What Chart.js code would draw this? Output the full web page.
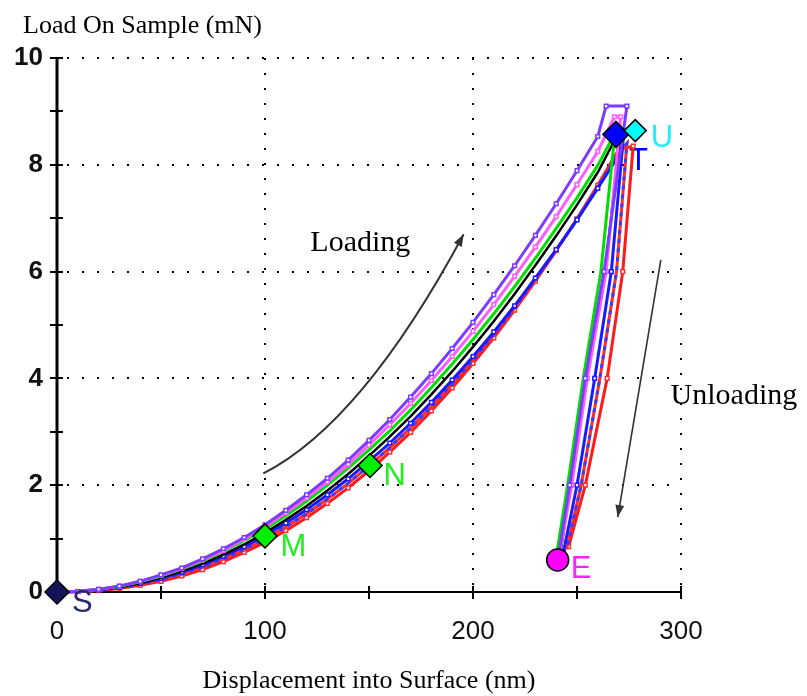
<!DOCTYPE html>
<html>
<head>
<meta charset="utf-8">
<script src="https://cdn.jsdelivr.net/npm/chart.js@4.4.1/dist/chart.umd.min.js"></script>
<style>
  html, body { margin: 0; padding: 0; background: #fff; }
  canvas { display: block; }
</style>
</head>
<body>
<canvas id="grafik" width="807" height="696"></canvas>
<script>
// Kedalaman (nm) untuk bagian loading, sama untuk semua kurva
const depthGrid = [0,10,20,30,40,50,60,70,80,90,100,110,120,130,140,150,160,170,180,190,200,210,220,230,240,250,260];

// Beban (mN) tiap kurva pada depthGrid
const purpleLoad  = [0,0.01,0.05,0.11,0.2,0.32,0.45,0.62,0.81,1.02,1.26,1.53,1.82,2.13,2.47,2.84,3.23,3.65,4.09,4.56,5.05,5.57,6.11,6.68,7.27,7.89,8.53];
const magentaLoad = [0,0.012,0.05,0.11,0.2,0.31,0.44,0.6,0.78,0.99,1.22,1.48,1.76,2.06,2.39,2.75,3.13,3.53,3.96,4.41,4.88,5.38,5.91,6.46,7.03,7.63,8.25];
const greenLoad   = [0,0.012,0.047,0.106,0.19,0.3,0.43,0.58,0.76,0.96,1.18,1.43,1.7,2.0,2.32,2.66,3.02,3.41,3.83,4.27,4.73,5.21,5.72,6.25,6.81,7.38,7.99];
const blackLoad   = [0,0.01,0.04,0.094,0.17,0.27,0.39,0.53,0.7,0.89,1.11,1.35,1.61,1.9,2.21,2.55,2.91,3.29,3.7,4.13,4.59,5.07,5.58,6.12,6.67,7.25,7.86];
const blueLoad    = [0,0.01,0.04,0.09,0.16,0.26,0.37,0.51,0.67,0.85,1.06,1.29,1.54,1.82,2.12,2.45,2.79,3.16,3.55,3.97,4.41,4.87,5.36,5.88,6.41,6.97,7.56];
const redBlueLoad = [0,0.008,0.033,0.078,0.142,0.23,0.335,0.465,0.62,0.795,0.995,1.22,1.465,1.74,2.035,2.36,2.705,3.075,3.47,3.895,4.345,4.815,5.32,5.85,6.4,6.98,7.59];
const redLoad     = [0,0.006,0.027,0.066,0.124,0.2,0.3,0.42,0.57,0.74,0.93,1.15,1.39,1.66,1.95,2.27,2.62,2.99,3.39,3.82,4.28,4.76,5.28,5.82,6.39,6.99,7.62];

// Puncak + unloading tiap kurva
const purpleTailDepth  = [264,274,263,254,246.5,241];
const purpleTailLoad   = [9.1,9.1,6,4,2,0.65];
const magentaTailDepth = [268,271,264,255,247.5,241.5];
const magentaTailLoad  = [8.9,8.9,6,4,2,0.7];
const greenTailDepth   = [267,268,261.5,253,245.5,240];
const greenTailLoad    = [8.5,8.5,6,4,2,0.65];
const blackTailDepth   = [270,271,263.5,254.5,247,241.5];
const blackTailLoad    = [8.6,8.6,6,4,2,0.6];
const blueTailDepth    = [270,272.5,266.5,258.5,250,243.5];
const blueTailLoad     = [8.17,8.6,6,4,2,0.75];
const redBlueTailDepth = [270,274,269,261,252,245];
const redBlueTailLoad  = [8.22,8.4,6,4,2,0.8];
const redTailDepth     = [270,277,272,264.5,254,246];
const redTailLoad      = [8.28,8.35,6,4,2,0.85];

// Titik penanda (S, M, N, puncak, U, E)
const markerDepth = [0,100,150.5,268.7,278,240.7];
const markerLoad  = [0,1.05,2.37,8.57,8.64,0.6];

// Huruf di samping penanda
const letterText  = ['S','M','N','U','E'];
const letterDepth = [7.2,107.4,157,285.5,247];
const letterLoad  = [-0.37,0.67,2.0,8.33,0.26];

// Sumbu
const xTickValues = [0,50,100,150,200,250,300];
const yTickValues = [0,1,2,3,4,5,6,7,8,9,10];
const xGridValues = [100,200,300];
const yGridValues = [2,4,6,8,10];

// Gaya (warna dsb.)
const markerColors = ['#14145a','#00ee00','#00ee00','#0000ff','#00ffff','#ff00ff'];
const markerShapes = ['rectRot','rectRot','rectRot','rectRot','rectRot','circle'];
const letterColors = ['#26266e','#22ee22','#22ee22','#22eeff','#ff22ff'];

function gabung(d1, l1, d2, l2) {
  const d = d1.concat(d2), l = l1.concat(l2);
  return d.map((v, i) => ({ x: v, y: l[i] }));
}

function kurva(label, data, warna, order, extra) {
  return Object.assign({
    label, data, order,
    showLine: true,
    borderColor: warna,
    borderWidth: 3,
    pointRadius: 0,
    tension: 0,
    clip: false
  }, extra || {});
}

// titik kotak berongga, mirip tampilan asli
const kotak = warna => ({
  pointStyle: 'rect', pointRadius: 2.6, pointBorderWidth: 1.5,
  pointBorderColor: warna, pointBackgroundColor: '#fff'
});

const datasets = [
  {
    label: 'penanda',
    data: markerDepth.map((v, i) => ({ x: v, y: markerLoad[i] })),
    order: 0,
    showLine: false,
    pointStyle: markerShapes,
    pointRadius: [12, 12, 12, 13, 11, 11],
    pointBackgroundColor: markerColors,
    pointBorderColor: '#000',
    pointBorderWidth: 1.5,
    clip: false
  },
  kurva('purple', gabung(depthGrid, purpleLoad, purpleTailDepth, purpleTailLoad), '#7a3cff', 1, kotak('#7a3cff')),
  kurva('magenta', gabung(depthGrid, magentaLoad, magentaTailDepth, magentaTailLoad), '#ff5cff', 2, kotak('#ff5cff')),
  kurva('green', gabung(depthGrid, greenLoad, greenTailDepth, greenTailLoad), '#00dd00', 3),
  kurva('black', gabung(depthGrid, blackLoad, blackTailDepth, blackTailLoad), '#000000', 4, { borderWidth: 2.5 }),
  kurva('blue', gabung(depthGrid, blueLoad, blueTailDepth, blueTailLoad), '#1a1aff', 5, kotak('#1a1aff')),
  kurva('redblue-dash', gabung(depthGrid, redBlueLoad, redBlueTailDepth, redBlueTailLoad), '#3a3aff', 6, { borderDash: [4, 5] }),
  kurva('redblue', gabung(depthGrid, redBlueLoad, redBlueTailDepth, redBlueTailLoad), '#ff2a2a', 7),
  kurva('red', gabung(depthGrid, redLoad, redTailDepth, redTailLoad), '#ff1a1a', 8, kotak('#ff3030'))
];

function garis(ctx, x1, y1, x2, y2) {
  ctx.beginPath();
  ctx.moveTo(x1, y1);
  ctx.lineTo(x2, y2);
  ctx.stroke();
}

function kepalaPanah(ctx, fromX, fromY, toX, toY) {
  const ang = Math.atan2(toY - fromY, toX - fromX);
  const len = 13, lebar = 0.35;
  ctx.beginPath();
  ctx.moveTo(toX, toY);
  ctx.lineTo(toX - len * Math.cos(ang - lebar), toY - len * Math.sin(ang - lebar));
  ctx.lineTo(toX - len * Math.cos(ang + lebar), toY - len * Math.sin(ang + lebar));
  ctx.closePath();
  ctx.fill();
}

// Grid titik-titik, sumbu, tick, teks, panah
const dekorasi = {
  id: 'dekorasi',
  beforeDatasetsDraw(chart) {
    const { ctx, scales: { x, y } } = chart;
    const x0 = x.getPixelForValue(0), x3 = x.getPixelForValue(300);
    const y0 = y.getPixelForValue(0), y10 = y.getPixelForValue(10);
    ctx.save();
    ctx.strokeStyle = '#000';
    ctx.lineWidth = 2;
    ctx.setLineDash([2, 13]);
    xGridValues.forEach(v => {
      const px = Math.round(x.getPixelForValue(v));
      garis(ctx, px, y10, px, y0 - 4);
    });
    yGridValues.forEach(v => {
      const py = Math.round(y.getPixelForValue(v));
      garis(ctx, x0 + 10, py, x3, py);
    });
    ctx.setLineDash([]);

    // sumbu y tebal, sumbu x tipis
    ctx.lineWidth = 3;
    garis(ctx, x0, y0, x0, y10);
    ctx.lineWidth = 2;
    garis(ctx, x0, y0, x3, y0);

    // tick kecil yang memotong sumbu
    xTickValues.forEach(v => {
      const px = Math.round(x.getPixelForValue(v));
      garis(ctx, px, y0 - 6, px, y0 + 7);
    });
    yTickValues.forEach(v => {
      const py = Math.round(y.getPixelForValue(v));
      garis(ctx, x0 - 7, py, x0 + 6, py);
    });

    // huruf T biru, sebagian tertutup garis
    ctx.font = '31px "Liberation Sans", Arial, sans-serif';
    ctx.fillStyle = '#0000ff';
    ctx.fillText('T', x.getPixelForValue(275), y.getPixelForValue(7.9));
    ctx.restore();
  },
  afterDatasetsDraw(chart) {
    const { ctx, scales: { x, y } } = chart;
    ctx.save();

    // huruf penanda
    ctx.font = '31px "Liberation Sans", Arial, sans-serif';
    ctx.textAlign = 'left';
    ctx.textBaseline = 'alphabetic';
    letterText.forEach((t, i) => {
      ctx.fillStyle = letterColors[i];
      ctx.fillText(t, x.getPixelForValue(letterDepth[i]), y.getPixelForValue(letterLoad[i]));
    });

    // panah loading (melengkung)
    ctx.strokeStyle = '#333';
    ctx.fillStyle = '#333';
    ctx.lineWidth = 2;
    const ax = x.getPixelForValue(99.2), ay = y.getPixelForValue(2.22);
    const cx = x.getPixelForValue(146.8), cy = y.getPixelForValue(3.17);
    const bx = x.getPixelForValue(195.5), by = y.getPixelForValue(6.7);
    ctx.beginPath();
    ctx.moveTo(ax, ay);
    ctx.quadraticCurveTo(cx, cy, bx, by);
    ctx.stroke();
    kepalaPanah(ctx, cx, cy, bx, by);

    // panah unloading (lurus)
    const ux1 = x.getPixelForValue(290.3), uy1 = y.getPixelForValue(6.22);
    const ux2 = x.getPixelForValue(269.6), uy2 = y.getPixelForValue(1.4);
    ctx.lineWidth = 1.6;
    garis(ctx, ux1, uy1, ux2, uy2);
    kepalaPanah(ctx, ux1, uy1, ux2, uy2);

    // teks keterangan
    ctx.fillStyle = '#000';
    ctx.font = '30px "Liberation Serif", "Times New Roman", serif';
    ctx.fillText('Loading', x.getPixelForValue(121.8), y.getPixelForValue(6.39));
    ctx.fillText('Unloading', x.getPixelForValue(295), y.getPixelForValue(3.52));

    // judul sumbu
    ctx.font = '26px "Liberation Serif", "Times New Roman", serif';
    ctx.fillText('Load On Sample (mN)', 23, 33);
    ctx.textAlign = 'center';
    ctx.fillText('Displacement into Surface (nm)', (chart.chartArea.left + chart.chartArea.right) / 2, 688);
    ctx.restore();
  }
};

new Chart(document.getElementById('grafik'), {
  type: 'scatter',
  data: { datasets },
  options: {
    responsive: false,
    animation: false,
    events: [],
    layout: { padding: { top: 58, right: 126, bottom: 0, left: 0 } },
    plugins: { legend: { display: false }, tooltip: { enabled: false } },
    scales: {
      x: {
        type: 'linear', min: 0, max: 300,
        afterFit: s => { s.height = 104; },
        grid: { display: false, drawTicks: false },
        border: { display: false },
        ticks: {
          stepSize: 50, padding: 24, color: '#111',
          font: { family: '"Liberation Sans", Arial, sans-serif', size: 26 },
          callback: v => (v % 100 === 0 ? v : '')
        }
      },
      y: {
        type: 'linear', min: 0, max: 10,
        afterFit: s => { s.width = 57; },
        grid: { display: false, drawTicks: false },
        border: { display: false },
        ticks: {
          stepSize: 1, padding: 14, color: '#111',
          font: { family: '"Liberation Sans", Arial, sans-serif', size: 26, weight: 'bold' },
          callback: v => (v % 2 === 0 ? v : '')
        }
      }
    }
  },
  plugins: [dekorasi]
});
</script>
</body>
</html>
